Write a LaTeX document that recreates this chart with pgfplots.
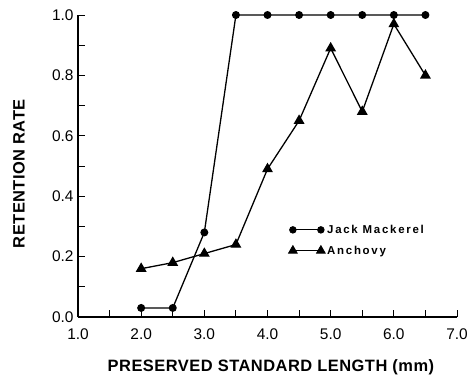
\documentclass[border=0pt]{standalone}
\usepackage{fontspec}
\setmainfont{Liberation Sans}
\usepackage{pgfplots}
\pgfplotsset{compat=1.18}
\pgfplotsset{twomark legend/.style={legend image code/.code={\draw[##1, line width=0.8pt] plot coordinates {(0bp,0bp) (28bp,0bp)};}}}
\begin{document}
\begin{tikzpicture}[x=1bp,y=1bp]
\path[use as bounding box] (-78,-58) rectangle (392,317);
\begin{axis}[
  at={(0,0)}, anchor=origin,
  scale only axis, width=379bp, height=302bp,
  xmin=1, xmax=7, ymin=0, ymax=1,
  axis x line=bottom, axis y line=left,
  axis line style={-, line width=1.5pt},
  tick align=inside,
  major tick length=7bp, minor tick length=7bp,
  tick style={line width=1pt, black},
  xtick={1,2,3,4,5,6,7},
  xticklabels={1.0,2.0,3.0,4.0,5.0,6.0,7.0},
  ytick={0,0.2,0.4,0.6,0.8,1.0},
  yticklabels={0.0,0.2,0.4,0.6,0.8,1.0},
  minor x tick num=1, minor y tick num=1,
  ticklabel style={font=\fontsize{15.5}{17}\selectfont},
  xticklabel style={yshift=-8bp},
  yticklabel style={xshift=-1bp},
  xlabel={\addfontfeatures{LetterSpace=3}\bfseries PRESERVED STANDARD LENGTH (mm)},
  ylabel={\addfontfeatures{LetterSpace=3}\bfseries RETENTION RATE},
  label style={font=\fontsize{16.5}{18}\selectfont},
  xlabel style={at={(axis description cs:0.509,0)}, anchor=north, inner sep=0pt, yshift=-42bp},
  ylabel style={at={(axis description cs:0,0.474)}, anchor=center, inner sep=0pt, yshift=59bp},
  clip=false,
  twomark legend,
  legend style={draw=none, fill=none, at={(axis cs:4.33,0.312)}, anchor=north west,
    font=\fontsize{11.5}{13}\selectfont\bfseries\addfontfeatures{LetterSpace=15}, row sep=7bp,
    inner sep=0pt, nodes={inner sep=2pt}},
  legend cell align=left,
]
\addplot[black, line width=1.3pt, mark=*, mark size=3.3bp] coordinates {
(2.0,0.03) (2.5,0.03) (3.0,0.28) (3.5,1.0) (4.0,1.0) (4.5,1.0) (5.0,1.0) (5.5,1.0) (6.0,1.0) (6.5,1.0)};
\addlegendentry{Jack Mackerel}
\addplot[black, line width=1.3pt, mark=triangle*, mark size=5bp] coordinates {
(2.0,0.16) (2.5,0.18) (3.0,0.21) (3.5,0.24) (4.0,0.49) (4.5,0.65) (5.0,0.89) (5.5,0.68) (6.0,0.97) (6.5,0.80)};
\addlegendentry{Anchovy}
\end{axis}
\end{tikzpicture}
\end{document}
